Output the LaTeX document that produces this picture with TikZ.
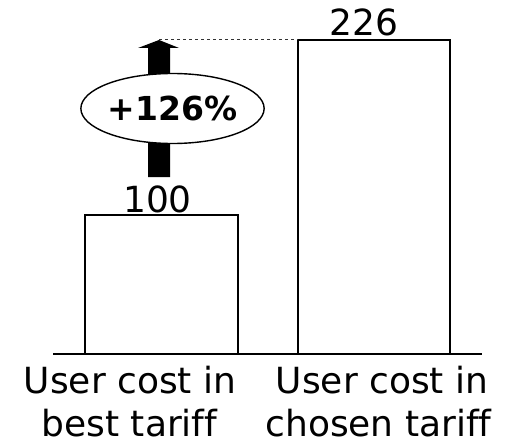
\documentclass[tikz,border=0pt]{standalone}
\usepackage{fontspec}
\setmainfont[Ligatures=NoCommon]{DejaVu Sans}
\usetikzlibrary{shapes.geometric}
\begin{document}
\begin{tikzpicture}[x=1pt,y=-1pt,
  bar/.style={draw=black,line width=1.4pt,fill=white},
  axisline/.style={draw=black,line width=2pt},
  value/.style={font=\fontsize{36}{40}\selectfont,anchor=base,inner sep=0pt},
  catlabel/.style={font=\fontsize{36}{40}\selectfont,anchor=base,inner sep=0pt},
  growth/.style={ellipse,draw=black,line width=1.4pt,fill=white,
    minimum width=162pt,minimum height=70pt,inner sep=0pt,
    font=\fontsize{33}{36}\selectfont\bfseries},
  guide/.style={draw=black!80,line width=1pt,dash pattern=on 3pt off 3pt}]
  \useasboundingbox (0,0) rectangle (506,441);

  % bars
  \coordinate (b1tl) at (85,215);
  \coordinate (b1br) at (238,354);
  \coordinate (b2tl) at (298,40);
  \coordinate (b2br) at (450,354);
  \draw[bar] (b1tl) rectangle (b1br);
  \draw[bar] (b2tl) rectangle (b2br);

  % baseline axis
  \coordinate (axl) at (53,354);
  \coordinate (axr) at (482,354);
  \draw[axisline] (axl) -- (axr);

  % values
  \node[value] (v1) at (157.5,212) {100};
  \node[value] (v2) at (364,36) {226};

  % increase arrow
  \coordinate (tip) at (159,40);
  \fill[black] (148,177) -- (170,177) -- (170,48) -- (179,48) -- (tip)
    -- (138,48) -- (148,48) -- cycle;
  \draw[guide] (tip) -- (b2tl);
  \node[growth] (pct) at (172.5,108.5) {+126\%};

  % category labels
  \node[catlabel] (c1a) at (130,393) {User cost in};
  \node[catlabel] (c1b) at (129.5,436) {best tariff};
  \node[catlabel] (c2a) at (382,393) {User cost in};
  \node[catlabel] (c2b) at (378.5,436) {chosen tariff};
\end{tikzpicture}
\end{document}
